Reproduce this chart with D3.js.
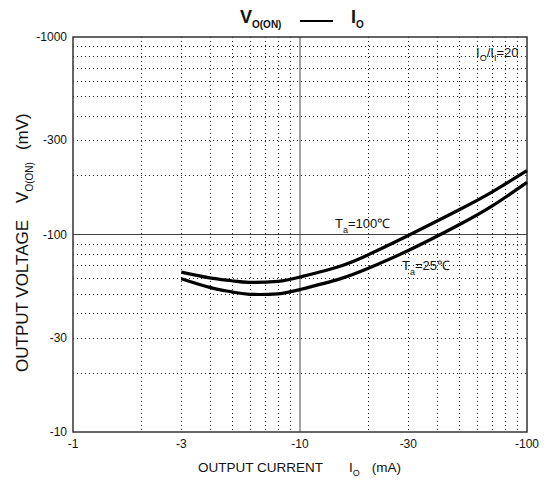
<!DOCTYPE html>
<html>
<head>
<meta charset="utf-8">
<script src="https://cdn.jsdelivr.net/npm/d3@7"></script>
<style>
body { margin: 0; background: #fff; }
text { font-family: "Liberation Sans", Arial, sans-serif; fill: #111; }
</style>
</head>
<body>
<svg id="svg" width="545" height="481"></svg>
<script>
// output current (mA) and V_O(ON) (mV)
var current = [-3, -4, -5, -6, -8, -10, -15, -20, -30, -50, -70, -100];
var v100 = [-64.5, -60.3, -58.3, -57.2, -57.9, -60.9, -69.1, -79.0, -98.9, -133.0, -163.9, -210.5];
var v25 = [-59.7, -54.0, -51.2, -49.8, -50.1, -52.6, -59.6, -67.4, -83.0, -111.7, -139.1, -183.7];
var xTicks = [-1, -3, -10, -30, -100];
var yTicks = [-10, -30, -100, -300, -1000];

var svg = d3.select("#svg");
// plot box (note: "top" is taken by window.top)
var pL = 73, pR = 527, pT = 37, pB = 432;

var x = d3.scaleLog().domain([-1, -100]).range([pL, pR]);
var y = d3.scaleLog().domain([-10, -1000]).range([pB, pT]);

function isDecade(v) {
  var l = Math.log10(Math.abs(v));
  return Math.abs(l - Math.round(l)) < 1e-9;
}

// dotted minor grid
var g = svg.append("g");
x.ticks().filter(d => !isDecade(d)).forEach(d => {
  g.append("line")
    .attr("x1", Math.round(x(d)) + 0.5).attr("x2", Math.round(x(d)) + 0.5)
    .attr("y1", pT).attr("y2", pB)
    .attr("stroke", "#222").attr("stroke-width", 1)
    .attr("stroke-dasharray", "1,3");
});
y.ticks().filter(d => !isDecade(d)).forEach(d => {
  g.append("line")
    .attr("y1", Math.round(y(d)) + 0.5).attr("y2", Math.round(y(d)) + 0.5)
    .attr("x1", pL).attr("x2", pR)
    .attr("stroke", "#222").attr("stroke-width", 1)
    .attr("stroke-dasharray", "1,3");
});

// solid decade lines inside
g.append("line").attr("x1", x(-10)).attr("x2", x(-10)).attr("y1", pT).attr("y2", pB)
  .attr("stroke", "#444").attr("stroke-width", 1);
g.append("line").attr("y1", y(-100)).attr("y2", y(-100)).attr("x1", pL).attr("x2", pR)
  .attr("stroke", "#444").attr("stroke-width", 1);

// frame
svg.append("rect").attr("x", pL).attr("y", pT)
  .attr("width", pR - pL).attr("height", pB - pT)
  .attr("fill", "none").attr("stroke", "#333").attr("stroke-width", 1.5);

// tick labels
xTicks.forEach(d => {
  svg.append("text").attr("x", x(d)).attr("y", 448)
    .attr("text-anchor", "middle").attr("font-size", 12).text(d);
});
yTicks.forEach(d => {
  svg.append("text").attr("x", 67).attr("y", y(d) + 4)
    .attr("text-anchor", "end").attr("font-size", 12).text(d);
});

// curves
var line = d3.line()
  .x(d => x(d[0]))
  .y(d => y(d[1]))
  .curve(d3.curveNatural);

[v100, v25].forEach(vs => {
  svg.append("path")
    .datum(current.map((c, i) => [c, vs[i]]))
    .attr("d", line)
    .attr("fill", "none").attr("stroke", "#000").attr("stroke-width", 3.2);
});

// title
var t = svg.append("text").attr("x", 240).attr("y", 23).attr("font-size", 18).attr("font-weight", "bold");
t.append("tspan").text("V");
t.append("tspan").attr("font-size", 10).attr("dy", 5).text("O(ON)");
svg.append("line").attr("x1", 300).attr("x2", 333).attr("y1", 21).attr("y2", 21)
  .attr("stroke", "#000").attr("stroke-width", 2);
var t2 = svg.append("text").attr("x", 351).attr("y", 23).attr("font-size", 18).attr("font-weight", "bold");
t2.append("tspan").text("I");
t2.append("tspan").attr("font-size", 10).attr("dy", 5).text("O");

// annotations
var a1 = svg.append("text").attr("x", 476).attr("y", 57).attr("font-size", 13);
a1.append("tspan").text("I");
a1.append("tspan").attr("font-size", 9).attr("dy", 4).text("O");
a1.append("tspan").attr("dy", -4).text("/I");
a1.append("tspan").attr("font-size", 9).attr("dy", 4).text("I");
a1.append("tspan").attr("dy", -4).text("=20");

function tempLabel(px, py, txt) {
  var tl = svg.append("text").attr("x", px).attr("y", py).attr("font-size", 13);
  tl.append("tspan").text("T");
  tl.append("tspan").attr("font-size", 9).attr("dy", 5).text("a");
  tl.append("tspan").attr("dy", -5).text("=" + txt + "\u2103");
}
tempLabel(335, 228, "100");
tempLabel(402, 270, "25");

// axis titles
var xl = svg.append("text").attr("x", 198).attr("y", 472).attr("font-size", 13.5);
xl.append("tspan").text("OUTPUT CURRENT");
xl.append("tspan").attr("dx", 26).text("I");
xl.append("tspan").attr("font-size", 9).attr("dy", 4).text("O");
xl.append("tspan").attr("dy", -4).attr("dx", 12).text("(mA)");

var yl = svg.append("text").attr("transform", "translate(28,372) rotate(-90)").attr("font-size", 17);
yl.append("tspan").text("OUTPUT VOLTAGE");
yl.append("tspan").attr("dx", 17).text("V");
yl.append("tspan").attr("font-size", 10).attr("dy", 5).text("O(ON)");
yl.append("tspan").attr("dy", -5).attr("dx", 12).text("(mV)");
</script>
</body>
</html>
